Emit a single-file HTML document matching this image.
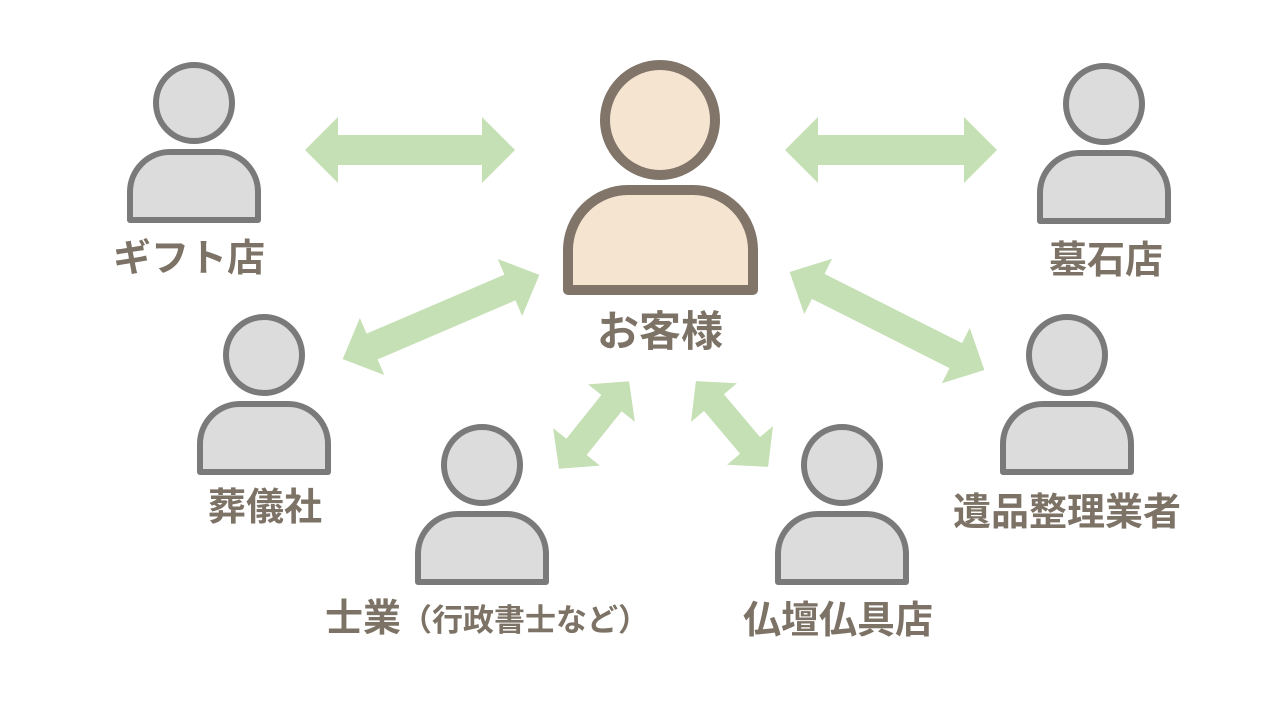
<!DOCTYPE html>
<html><head><meta charset="utf-8"><style>
body{margin:0;width:1276px;height:720px;background:#fff;overflow:hidden}
svg{display:block}
text{font-family:"Liberation Sans","Noto Sans CJK JP",sans-serif;font-weight:bold;fill:#7d7266}
</style></head><body>
<svg width="1276" height="720" viewBox="0 0 1276 720">
<defs>
<g id="p">
<circle cx="0" cy="0" r="38" fill="#dcdcdc" stroke="#7a7a7a" stroke-width="6"/>
<path d="M-64,117 V89 A40,40 0 0 1 -24,49 H24 A40,40 0 0 1 64,89 V117 Z" fill="#dcdcdc" stroke="#7a7a7a" stroke-width="6" stroke-linejoin="round"/>
</g>
</defs>
<g fill="#c5e0b4">
<polygon transform="translate(410,150)" points="-105,0 -72,-33 -72,-15 72,-15 72,-33 105,0 72,33 72,15 -72,15 -72,33"/>
<polygon transform="translate(891,150)" points="-106,0 -73,-33 -73,-15 73,-15 73,-33 106,0 73,33 73,15 -73,15 -73,33"/>
<polygon transform="translate(441,317) rotate(-23.2)" points="-107,0 -75,-31 -75,-14 75,-14 75,-31 107,0 75,31 75,14 -75,14 -75,31"/>
<polygon transform="translate(887,321) rotate(26.7)" points="-109,0 -77,-31 -77,-14 77,-14 77,-31 109,0 77,31 77,14 -77,14 -77,31"/>
<polygon transform="translate(594,425) rotate(-51.3)" points="-56,0 -28,-30 -28,-13 28,-13 28,-30 56,0 28,30 28,13 -28,13 -28,30"/>
<polygon transform="translate(732,424) rotate(49.9)" points="-56,0 -28,-30 -28,-13 28,-13 28,-30 56,0 28,30 28,13 -28,13 -28,30"/>
</g>
<use href="#p" transform="translate(194,103)"/>
<use href="#p" transform="translate(1104,104)"/>
<use href="#p" transform="translate(264,355)"/>
<use href="#p" transform="translate(1067,355)"/>
<use href="#p" transform="translate(482,465)"/>
<use href="#p" transform="translate(842,465)"/>
<circle cx="660" cy="120" r="55" fill="#f5e4d0" stroke="#807568" stroke-width="10"/>
<path d="M568,290 V250 A60,60 0 0 1 628,190 H693 A60,60 0 0 1 753,250 V290 Z" fill="#f5e4d0" stroke="#807568" stroke-width="10" stroke-linejoin="round"/>
<text x="660" y="346" font-size="42" text-anchor="middle">お客様</text>
<text x="189" y="271" font-size="38" text-anchor="middle">ギフト店</text>
<text x="1106" y="273" font-size="38" text-anchor="middle">墓石店</text>
<text x="265" y="520" font-size="38" text-anchor="middle">葬儀社</text>
<text x="1067" y="525" font-size="38" text-anchor="middle">遺品整理業者</text>
<text x="325" y="631" font-size="38">士業<tspan font-size="31">（行政書士など）</tspan></text>
<text x="838" y="633" font-size="38" text-anchor="middle">仏壇仏具店</text>
</svg>
</body></html>
